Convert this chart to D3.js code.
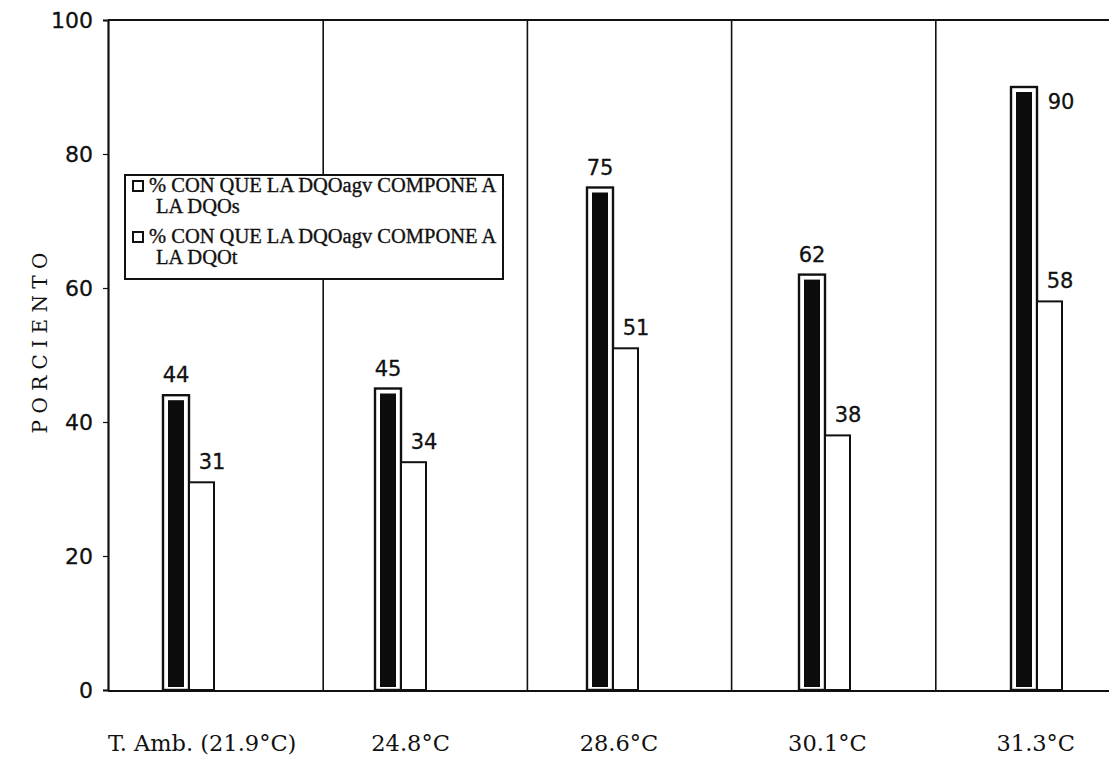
<!DOCTYPE html>
<html>
<head>
<meta charset="utf-8">
<script src="https://cdn.jsdelivr.net/npm/d3@7"></script>
<style>
  html, body { margin: 0; padding: 0; background: #fff; }
  svg { display: block; }
</style>
</head>
<body>
<script>
// ---- data ----
const categories = ["T. Amb. (21.9°C)", "24.8°C", "28.6°C", "30.1°C", "31.3°C"];
const seriesNames = [
  "% CON QUE LA DQOagv COMPONE A LA DQOs",
  "% CON QUE LA DQOagv COMPONE A LA DQOt"
];
const legendLines = [
  ["% CON QUE LA DQOagv COMPONE A", "LA DQOs"],
  ["% CON QUE LA DQOagv COMPONE A", "LA DQOt"]
];
const dqoS = [44, 45, 75, 62, 90];
const dqoT = [31, 34, 51, 38, 58];
const yTicks = [0, 20, 40, 60, 80, 100];
const yTitle = "P O R C I E N T O";

// ---- layout ----
const W = 1109, H = 758;
const pLeft = 108, pRight = 1109, pTop = 20, pBottom = 690;

const svg = d3.select("body").append("svg")
  .attr("width", W).attr("height", H);

const y = d3.scaleLinear().domain([0, 100]).range([pBottom, pTop]);
// bar groups
const x = d3.scaleBand().domain(categories).range([83, 1143]);
const xSub = d3.scaleBand().domain([0, 1]).range([-26, 26]);
// separator grid (category boundaries)
const xGrid = d3.scaleBand().domain(categories).range([119, 1140]);
// category label positions
const xLab = d3.scaleBand().domain(categories).range([98, 1140]);

const ink = "#111";

// separators
svg.append("g").selectAll("line")
  .data(categories.slice(1))
  .join("line")
  .attr("x1", d => xGrid(d)).attr("x2", d => xGrid(d))
  .attr("y1", pTop).attr("y2", pBottom)
  .attr("stroke", ink).attr("stroke-width", 1.6);

// frame lines
svg.append("line").attr("x1", pLeft).attr("x2", pRight)
  .attr("y1", pTop).attr("y2", pTop)
  .attr("stroke", ink).attr("stroke-width", 2);
svg.append("line").attr("x1", pLeft).attr("x2", pRight)
  .attr("y1", pBottom + 1).attr("y2", pBottom + 1)
  .attr("stroke", ink).attr("stroke-width", 2);

// y axis
const yAxis = d3.axisLeft(y).tickValues(yTicks).tickSize(5).tickPadding(10);
const gy = svg.append("g").attr("transform", `translate(${pLeft},0)`).call(yAxis);
gy.select(".domain").attr("stroke", ink).attr("stroke-width", 2.2);
gy.selectAll(".tick line").attr("stroke", ink).attr("stroke-width", 1.2);
gy.selectAll(".tick text")
  .attr("fill", ink)
  .attr("stroke", ink).attr("stroke-width", 0.3)
  .style("font-family", "'DejaVu Sans', Verdana, sans-serif")
  .style("font-size", "22px");

// y title
svg.append("text")
  .attr("transform", `translate(47,343) rotate(-90)`)
  .attr("text-anchor", "middle")
  .style("font-family", "'DejaVu Serif', serif")
  .style("font-size", "20px")
  .attr("fill", ink)
  .text(yTitle);

// bars
const groups = svg.append("g").selectAll("g")
  .data(categories.map((c, i) => ({ c, s: dqoS[i], t: dqoT[i] })))
  .join("g")
  .attr("transform", d => `translate(${x(d.c) + x.bandwidth() / 2},0)`);

// dark (DQOs) bars: outer outline + inner black fill
groups.append("rect")
  .attr("x", xSub(0)).attr("width", xSub.bandwidth())
  .attr("y", d => y(d.s)).attr("height", d => y(0) - y(d.s))
  .attr("fill", "#fff").attr("stroke", ink).attr("stroke-width", 2.4);
groups.append("rect")
  .attr("x", xSub(0) + 5).attr("width", xSub.bandwidth() - 10)
  .attr("y", d => y(d.s) + 5).attr("height", d => y(0) - y(d.s) - 8)
  .attr("fill", "#0c0c0c");

// white (DQOt) bars
groups.append("rect")
  .attr("x", xSub(1)).attr("width", xSub.bandwidth() - 1)
  .attr("y", d => y(d.t)).attr("height", d => y(0) - y(d.t))
  .attr("fill", "#fff").attr("stroke", ink).attr("stroke-width", 2);

// value labels
const lblFont = "'DejaVu Sans', Verdana, sans-serif";
groups.append("text")
  .attr("x", d => d.s >= 85 ? xSub(1) + xSub.bandwidth() / 2 + 11 : xSub(0) + xSub.bandwidth() / 2)
  .attr("y", d => d.s >= 85 ? y(d.s) + 22 : y(d.s) - 13)
  .attr("text-anchor", "middle")
  .style("font-family", lblFont).style("font-size", "21px")
  .attr("fill", ink).attr("stroke", ink).attr("stroke-width", 0.3)
  .text(d => d.s);
groups.append("text")
  .attr("x", xSub(1) + xSub.bandwidth() / 2 + 10)
  .attr("y", d => y(d.t) - 13)
  .attr("text-anchor", "middle")
  .style("font-family", lblFont).style("font-size", "21px")
  .attr("fill", ink).attr("stroke", ink).attr("stroke-width", 0.3)
  .text(d => d.t);

// category labels
svg.append("g").selectAll("text")
  .data(categories)
  .join("text")
  .attr("x", d => xLab(d) + xLab.bandwidth() / 2)
  .attr("y", 751)
  .attr("text-anchor", "middle")
  .style("font-family", "'DejaVu Serif', serif")
  .style("font-size", "22.5px")
  .attr("fill", ink)
  .text(d => d);

// legend
const lg = svg.append("g");
lg.append("rect")
  .attr("x", 125).attr("y", 175).attr("width", 378).attr("height", 104)
  .attr("fill", "#fff").attr("stroke", ink).attr("stroke-width", 2);
const lgFont = "'Liberation Serif', 'Times New Roman', serif";
const rowY = [192, 243];
legendLines.forEach((lines, i) => {
  lg.append("rect")
    .attr("x", 133).attr("y", rowY[i] - 11).attr("width", 10).attr("height", 10)
    .attr("fill", "#fff").attr("stroke", ink).attr("stroke-width", 2)
    .append("title").text(seriesNames[i]);
  lines.forEach((t, j) => {
    lg.append("text")
      .attr("x", j === 0 ? 149 : 156)
      .attr("y", rowY[i] + j * 21)
      .style("font-family", lgFont).style("font-size", "20.5px")
      .attr("fill", ink).attr("stroke", ink).attr("stroke-width", 0.35)
      .text(t);
  });
});
</script>
</body>
</html>
